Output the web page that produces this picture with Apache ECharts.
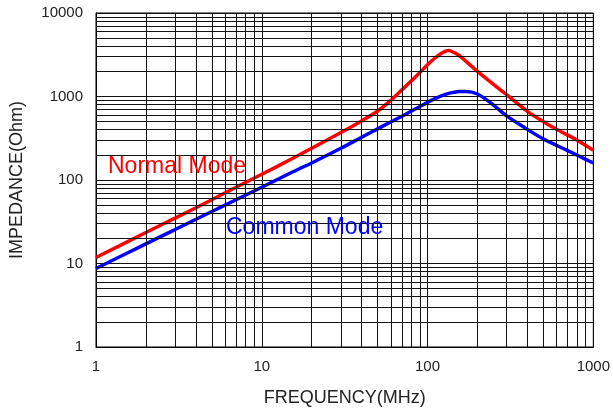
<!DOCTYPE html>
<html>
<head>
<meta charset="utf-8">
<script src="https://cdn.jsdelivr.net/npm/echarts@6/dist/echarts.min.js"></script>
<style>
html,body{margin:0;padding:0;background:#fff;}
#chart{width:613px;height:412px;}
</style>
</head>
<body>
<div id="chart"></div>
<script>
// Frequency samples (MHz)
var freq = [1, 2, 3, 5, 7, 10, 15, 20, 30, 40, 50, 60, 70, 80, 90, 100, 110, 120, 134, 145, 155, 170, 200, 250, 300, 400, 500, 600, 700, 800, 1000];
// Impedance (Ohm)
var normalMode = [11.8, 23.5, 35, 58, 82, 117, 177, 240, 370, 510, 670, 900, 1200, 1540, 1940, 2400, 2850, 3250, 3550, 3350, 3100, 2650, 2000, 1400, 1050, 665, 500, 405, 345, 300, 227];
var commonMode = [8.7, 17.2, 25.5, 42, 58, 82, 122, 160, 240, 325, 410, 495, 580, 670, 760, 850, 935, 1012, 1090, 1125, 1145, 1150, 1070, 790, 585, 404, 310, 260, 225, 198, 160];
// Minor grid values
var xMinor = [2,3,4,5,6,7,8,9,20,30,40,50,60,70,80,90,200,300,400,500,600,700,800,900];
var yMinor = [2,3,4,5,6,7,8,9,20,30,40,50,60,70,80,90,200,300,400,500,600,700,800,900,2000,3000,4000,5000,6000,7000,8000,9000];
var seriesNames = ['Normal Mode', 'Common Mode'];
var xName = 'FREQUENCY(MHz)';
var yName = 'IMPEDANCE(Ohm)';

function pairs(xs, ys){ return xs.map(function(x,i){ return [x, ys[i]]; }); }
function plain(v){ return String(Math.round(v)); }

var FONT = 'Liberation Sans, Arial, sans-serif';
var gridColor = '#111';
var markData = xMinor.map(function(v){ return {xAxis: v}; }).concat(yMinor.map(function(v){ return {yAxis: v}; }));

var chart = echarts.init(document.getElementById('chart'), null, {renderer: 'canvas'});
chart.setOption({
  animation: false,
  backgroundColor: '#fff',
  grid: {left: 95, right: 17, top: 13, bottom: 64, show: true, borderColor: '#000', borderWidth: 1},
  xAxis: {
    type: 'log', logBase: 10, min: 1, max: 1000,
    name: xName, nameLocation: 'middle', nameGap: 42,
    nameTextStyle: {fontFamily: FONT, fontSize: 18, color: '#222'},
    axisLine: {lineStyle: {color: '#000', width: 1}},
    axisTick: {show: false},
    axisLabel: {fontFamily: FONT, fontSize: 15, color: '#222', margin: 12, formatter: plain},
    splitLine: {show: true, lineStyle: {color: gridColor, width: 1}}
  },
  yAxis: {
    type: 'log', logBase: 10, min: 1, max: 10000,
    name: yName, nameLocation: 'middle', nameGap: 70,
    nameTextStyle: {fontFamily: FONT, fontSize: 18, color: '#222'},
    axisLine: {show: true, lineStyle: {color: '#000', width: 1}},
    axisTick: {show: false},
    axisLabel: {fontFamily: FONT, fontSize: 15, color: '#222', margin: 13, formatter: plain},
    splitLine: {show: true, lineStyle: {color: gridColor, width: 1}}
  },
  series: [
    {
      type: 'line', z: 1, silent: true, data: [[1, 1]], showSymbol: false,
      lineStyle: {opacity: 0},
      markLine: {
        silent: true, symbol: ['none', 'none'], animation: false,
        label: {show: false},
        lineStyle: {color: gridColor, width: 1, type: 'solid'},
        emphasis: {disabled: true},
        data: markData
      }
    },
    {
      name: seriesNames[0], type: 'line', z: 3, smooth: 0.3, showSymbol: false,
      data: pairs(freq, normalMode),
      lineStyle: {color: '#ff0000', width: 3.5}, itemStyle: {color: '#ff0000'}
    },
    {
      name: seriesNames[1], type: 'line', z: 3, smooth: 0.3, showSymbol: false,
      data: pairs(freq, commonMode),
      lineStyle: {color: '#0000ff', width: 3.5}, itemStyle: {color: '#0000ff'}
    }
  ],
  graphic: [
    {type: 'text', left: 108, top: 155, z: 10,
     style: {text: seriesNames[0], fill: '#ff0000', font: '23px ' + FONT}},
    {type: 'text', left: 226, top: 216, z: 10,
     style: {text: seriesNames[1], fill: '#0000ff', font: '23px ' + FONT}}
  ]
});
</script>
</body>
</html>
